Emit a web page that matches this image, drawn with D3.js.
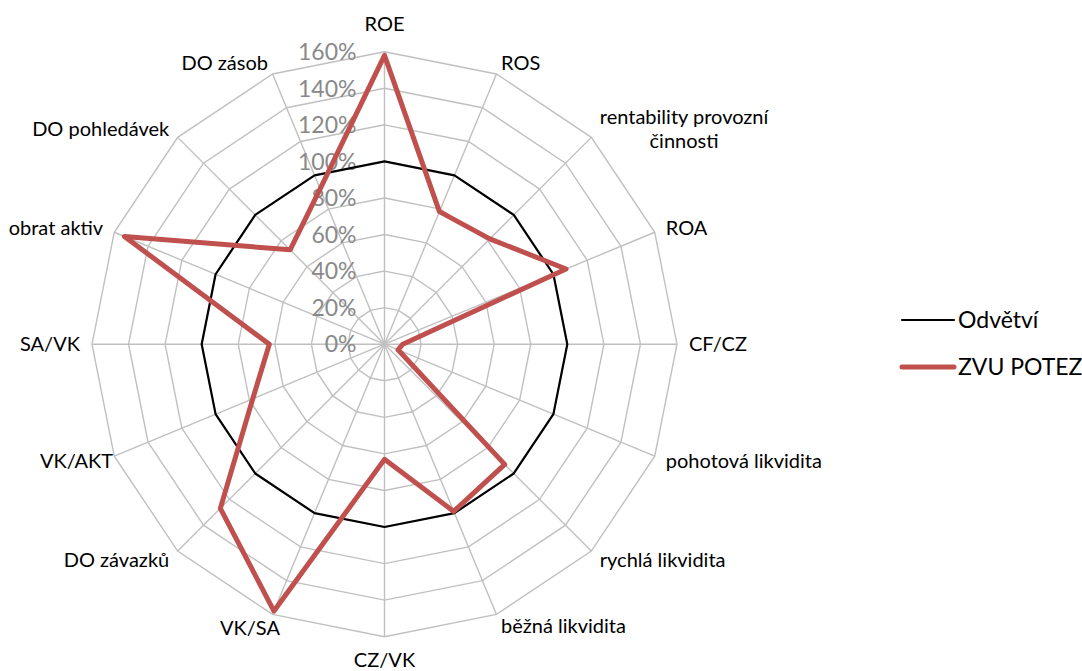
<!DOCTYPE html>
<html>
<head>
<meta charset="utf-8">
<script src="https://cdn.jsdelivr.net/npm/d3@7"></script>
<style>
  html, body { margin: 0; padding: 0; background: #fff; }
  svg { display: block; font-family: Lato, "Open Sans", sans-serif; }
</style>
</head>
<body>
<svg id="chart" width="1082" height="671"></svg>
<script>
// Axis categories, clockwise from the top
const categories = [
  "ROE", "ROS", "rentability provozní činnosti", "ROA", "CF/CZ",
  "pohotová likvidita", "rychlá likvidita", "běžná likvidita", "CZ/VK",
  "VK/SA", "DO závazků", "VK/AKT", "SA/VK", "obrat aktiv",
  "DO pohledávek", "DO zásob"
];

// Series values in percent
const industryValues = [100, 100, 100, 100, 100, 100, 100, 100, 100, 100, 100, 100, 100, 100, 100, 100];
const zvuValues = [158, 78.5, 81.5, 107.5, 10, 8, 93, 99, 63, 158, 127, 78, 63, 154, 73, 92];

const seriesNames = ["Odvětví", "ZVU POTEZ"];

// Radial tick values (percent)
const tickValues = [0, 20, 40, 60, 80, 100, 120, 140, 160];

const svg = d3.select("#chart");
const cx = 384.5, cy = 344.2, R = 292.5;
const n = categories.length;

const r = d3.scaleLinear().domain([0, 160]).range([0, R]);
const angle = d3.scaleLinear().domain([0, n]).range([0, 2 * Math.PI]);

const g = svg.append("g").attr("transform", `translate(${cx},${cy})`);

const pt = (i, v) => {
  const a = angle(i);
  return [Math.sin(a) * r(v), -Math.cos(a) * r(v)];
};

// Grid rings
const ringLine = d3.line().curve(d3.curveLinearClosed);
g.append("g").selectAll("path")
  .data(tickValues.filter(t => t > 0))
  .join("path")
  .attr("d", t => ringLine(d3.range(n).map(i => pt(i, t))))
  .attr("fill", "none")
  .attr("stroke", "#c0c0c0")
  .attr("stroke-width", 1.4);

// Spokes
g.append("g").selectAll("line")
  .data(d3.range(n))
  .join("line")
  .attr("x1", 0).attr("y1", 0)
  .attr("x2", i => pt(i, 160)[0])
  .attr("y2", i => pt(i, 160)[1])
  .attr("stroke", "#c0c0c0")
  .attr("stroke-width", 1.4);

// Radial tick labels along the top spoke
g.append("g").selectAll("text")
  .data(tickValues)
  .join("text")
  .attr("x", -28)
  .attr("y", t => -r(t))
  .attr("dy", "0.36em")
  .attr("text-anchor", "end")
  .attr("fill", "#898989")
  .style("font-size", "23px")
  .text(t => t + "%");

// Category labels
const labelNudge = { "VK/AKT": [10, 0], "VK/SA": [12, 2] };
const wrap = (s, maxChars) => {
  const words = s.split(" ");
  const lines = [];
  let cur = "";
  words.forEach(w => {
    const next = cur ? cur + " " + w : w;
    if (next.length > maxChars && cur) { lines.push(cur); cur = w; }
    else cur = next;
  });
  if (cur) lines.push(cur);
  return lines;
};

const labels = g.append("g").style("font-size", "20px").attr("fill", "#000");
categories.forEach((c, i) => {
  const a = angle(i);
  const s = Math.sin(a), co = Math.cos(a);
  const [px, py] = pt(i, 160 * (R + 12) / R);
  const nudge = labelNudge[c] || [0, 0];
  const lines = wrap(c, 20);
  const lineH = 24;
  const t = labels.append("text");
  let anchor = "middle", baseY;
  if (Math.abs(s) < 0.01) {
    baseY = co > 0 ? py - 9 : py + 18;
  } else {
    anchor = s > 0 ? "start" : "end";
    baseY = py + 7 - (lines.length - 1) * lineH / 2;
  }
  lines.forEach((ln, k) => {
    t.append("tspan")
      .attr("x", px + nudge[0])
      .attr("y", baseY + nudge[1] + k * lineH)
      .text(ln);
  });
  t.attr("text-anchor", anchor);
  // Multi-line labels: centre each line inside the block
  if (lines.length > 1) {
    const spans = t.selectAll("tspan").nodes();
    const w = d3.max(spans, sp => sp.getComputedTextLength());
    const left = anchor === "start" ? px : anchor === "end" ? px - w : px - w / 2;
    t.attr("text-anchor", "middle");
    t.selectAll("tspan").attr("x", left + w / 2 + nudge[0]);
  }
});

// Series polygons
const seriesLine = d3.line().curve(d3.curveLinearClosed);
g.append("path")
  .attr("d", seriesLine(industryValues.map((v, i) => pt(i, v))))
  .attr("fill", "none")
  .attr("stroke", "#000")
  .attr("stroke-width", 2.2)
  .attr("stroke-linejoin", "round");

g.append("path")
  .attr("d", seriesLine(zvuValues.map((v, i) => pt(i, v))))
  .attr("fill", "none")
  .attr("stroke", "#c0504d")
  .attr("stroke-width", 5)
  .attr("stroke-linejoin", "round");

// Legend
const legend = svg.append("g").attr("transform", "translate(902,320)");
const legendStyles = [
  { color: "#000", width: 2.2 },
  { color: "#c0504d", width: 5 }
];
seriesNames.forEach((name, k) => {
  const row = legend.append("g").attr("transform", `translate(0,${k * 47})`);
  row.append("line")
    .attr("x1", 0).attr("x2", 52)
    .attr("y1", 0).attr("y2", 0)
    .attr("stroke", legendStyles[k].color)
    .attr("stroke-width", legendStyles[k].width)
    .attr("stroke-linecap", "round");
  row.append("text")
    .attr("x", 56)
    .attr("y", 0)
    .attr("dy", "0.36em")
    .style("font-size", "23px")
    .text(name);
});
</script>
</body>
</html>
